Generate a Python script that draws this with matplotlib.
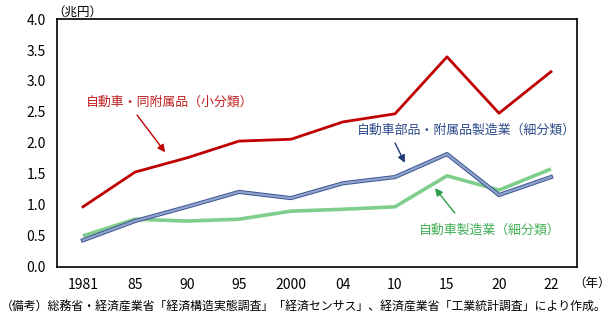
import matplotlib.pyplot as plt
import matplotlib.patheffects as pe

plt.rcParams['font.family'] = ['Noto Sans CJK JP', 'DejaVu Sans']

years = ['1981', '85', '90', '95', '2000', '04', '10', '15', '20', '22']
car_total = [0.97, 1.53, 1.76, 2.03, 2.06, 2.34, 2.47, 3.39, 2.48, 3.15]
car_parts = [0.43, 0.74, 0.97, 1.21, 1.11, 1.35, 1.45, 1.82, 1.16, 1.45]
car_make = [0.50, 0.77, 0.74, 0.77, 0.90, 0.93, 0.97, 1.47, 1.24, 1.58]

fig = plt.figure(figsize=(6.15, 3.17), dpi=100)
ax = fig.add_axes([0.0927, 0.158, 0.8455, 0.782])

x = range(len(years))
ax.plot(x, car_make, color='#7fce8c', lw=2.6, solid_capstyle='butt')
ax.plot(x, car_parts, color='#8fa3cc', lw=1.6,
        path_effects=[pe.Stroke(linewidth=3.0, foreground='#3c5590'), pe.Normal()])
ax.plot(x, car_total, color='#c00000', lw=2.0)

ax.set_xlim(-0.5, 9.5)
ax.set_ylim(0, 4.0)
ax.set_yticks([0, 0.5, 1.0, 1.5, 2.0, 2.5, 3.0, 3.5, 4.0])
ax.set_yticklabels(['0.0', '0.5', '1.0', '1.5', '2.0', '2.5', '3.0', '3.5', '4.0'])
ax.set_xticks(list(x))
ax.set_xticklabels(years)
ax.tick_params(length=0, labelsize=10, pad=8)
for s in ax.spines.values():
    s.set_linewidth(1.2)

fig.text(0.085, 0.962, '（兆円）', fontsize=9, ha='left', va='center')
fig.text(0.932, 0.105, '（年）', fontsize=9, ha='left', va='center')
fig.text(0.002, 0.035, '（備考）総務省・経済産業省「経済構造実態調査」「経済センサス」、経済産業省「工業統計調査」により作成。',
         fontsize=8.6, ha='left', va='center')

# labels
ax.text(0.05, 2.66, '自動車・同附属品（小分類）', color='#c02020', fontsize=9.3, ha='left', va='center')
ax.text(7.38, 2.21, '自動車部品・附属品製造業（細分類）', color='#2d4a8a', fontsize=9.3, ha='center', va='center')
ax.text(7.83, 0.60, '自動車製造業（細分類）', color='#3fae55', fontsize=9.3, ha='center', va='center')

# arrows
arrow = dict(arrowstyle='-|>', lw=1.0, mutation_scale=11, shrinkA=0, shrinkB=0)
ax.annotate('', xy=(1.58, 1.85), xytext=(1.04, 2.45), arrowprops=dict(arrow, color='#c00000'))
ax.annotate('', xy=(6.19, 1.68), xytext=(6.0, 2.0), arrowprops=dict(arrow, color='#1f3a78'))
ax.annotate('', xy=(6.77, 1.27), xytext=(7.15, 0.87), arrowprops=dict(arrow, color='#2e9e4a'))

fig.savefig('out.png', dpi=100)
